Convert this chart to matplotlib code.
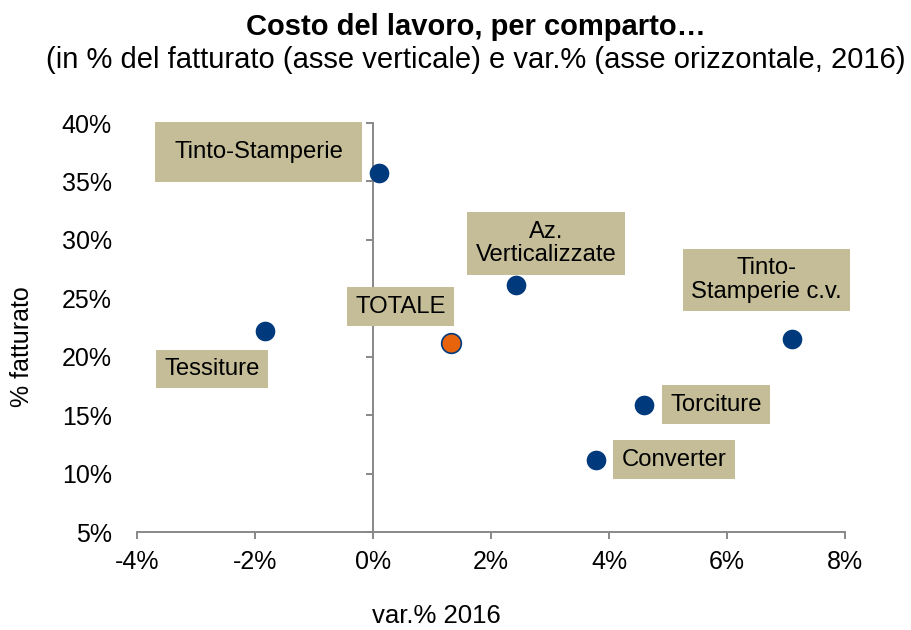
import matplotlib.pyplot as plt
import matplotlib.ticker as mticker

plt.rcParams['font.family'] = ['Liberation Sans', 'DejaVu Sans']

# dati: variazione % 2016 (asse x) e costo del lavoro in % del fatturato (asse y)
comparti = ['Tinto-Stamperie', 'Az.\nVerticalizzate', 'Tinto-\nStamperie c.v.',
            'TOTALE', 'Tessiture', 'Torciture', 'Converter']
var_2016 = [0.1, 2.42, 7.11, 1.33, -1.83, 4.59, 3.78]
perc_fatturato = [35.7, 26.1, 21.5, 21.2, 22.2, 15.9, 11.2]
is_totale = [False, False, False, True, False, False, False]

x_ticks = [-4, -2, 0, 2, 4, 6, 8]
y_ticks = [5, 10, 15, 20, 25, 30, 35, 40]

# posizione delle etichette rispetto al punto (pixel) e margine del riquadro
offsets = [(-120, 21), (30, 42), (-26, 59), (-51, 36), (-53, -38), (72, 0), (78, 0)]
pads = [0.8, 0.35, 0.35, 0.35, 0.35, 0.35, 0.35]

blu = '#003A7D'
arancio = '#E8640C'
grigio = '#888888'
beige = '#C4BD97'

fig = plt.figure(figsize=(9.11, 6.3), dpi=100)
ax = fig.add_axes([137 / 911, 1 - 532 / 630, (845 - 137) / 911, (532 - 123) / 630])

for x, y, tot in zip(var_2016, perc_fatturato, is_totale):
    ax.scatter(x, y, s=200, color=arancio if tot else blu,
               edgecolor=blu, linewidth=1.2 if tot else 0, zorder=3)

for nome, x, y, off, pad in zip(comparti, var_2016, perc_fatturato, offsets, pads):
    ax.annotate(nome, (x, y), xytext=off, textcoords='offset pixels',
                ha='center', va='center', fontsize=17.2, linespacing=1.1,
                bbox=dict(boxstyle=f'square,pad={pad}', fc=beige, ec='none'),
                zorder=4)

ax.set_xlim(-4, 8)
ax.set_ylim(5, 40)
ax.set_xticks(x_ticks)
ax.set_yticks(y_ticks)
ax.xaxis.set_major_formatter(mticker.FuncFormatter(lambda v, p: f'{v:.0f}%'))

for s in ['top', 'right']:
    ax.spines[s].set_visible(False)
ax.spines['left'].set_position(('data', 0))
for s in ['left', 'bottom']:
    ax.spines[s].set_color(grigio)
    ax.spines[s].set_linewidth(1.4)

ax.tick_params(axis='x', direction='out', length=5, width=1.4, color=grigio,
               labelsize=18, pad=8)
ax.tick_params(axis='y', direction='out', length=5, width=1.4, color=grigio,
               labelleft=False)

# etichette asse y sul bordo sinistro dell'area del grafico
sec = ax.secondary_yaxis(0.0)
sec.spines['left'].set_visible(False)
sec.set_yticks(y_ticks)
sec.yaxis.set_major_formatter(mticker.FuncFormatter(lambda v, p: f'{v:.0f}%'))
sec.tick_params(axis='y', length=0, labelsize=18, pad=18)

fig.text(476 / 911, 1 - 35 / 630, 'Costo del lavoro, per comparto…',
         ha='center', va='baseline', fontsize=21, fontweight='bold')
fig.text(476 / 911, 1 - 68 / 630,
         '(in % del fatturato (asse verticale) e var.% (asse orizzontale, 2016)',
         ha='center', va='baseline', fontsize=21)
fig.text(436 / 911, 1 - 616 / 630, 'var.% 2016', ha='center', va='center', fontsize=18.5)
fig.text(22 / 911, 1 - 347 / 630, '% fatturato', ha='center', va='center',
         rotation=90, fontsize=18)

fig.savefig('out.png', dpi=100)
